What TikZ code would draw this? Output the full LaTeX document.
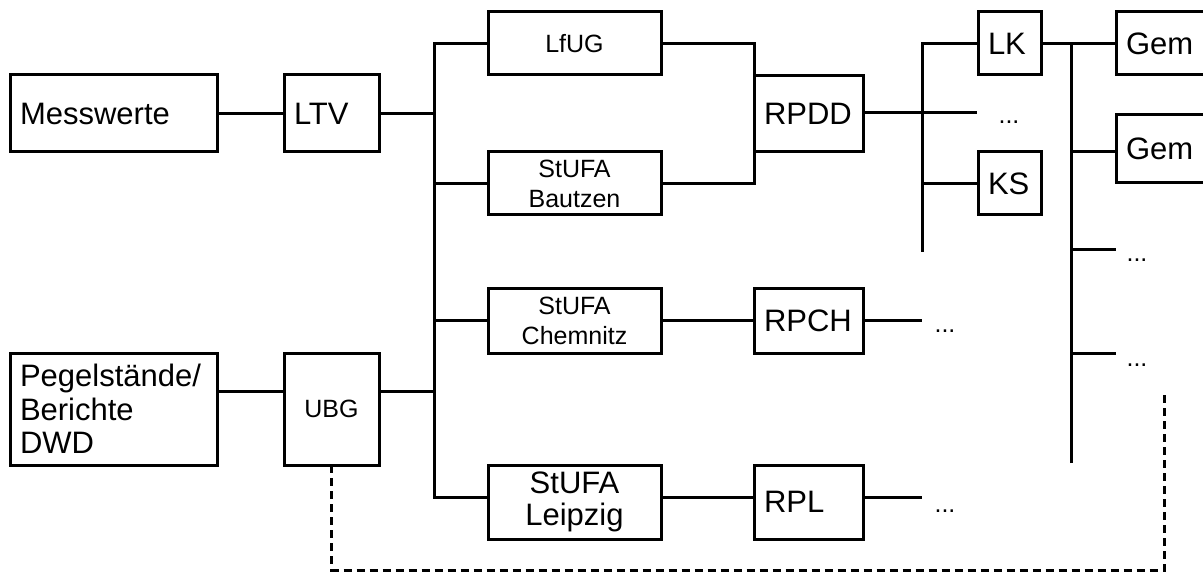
\documentclass[tikz,border=0pt]{standalone}
\usepackage{fontspec}
\setmainfont{Liberation Sans}
\usetikzlibrary{positioning,calc}

\begin{document}
\begin{tikzpicture}[x=1pt,y=-1pt,
  box/.style={draw, line width=3pt, anchor=north west, inner xsep=10pt, inner ysep=0pt, outer sep=0pt},
  gross/.style={box, align=left, font=\fontsize{31}{34}\selectfont},
  klein/.style={box, align=center, font=\fontsize{25}{30}\selectfont},
  leitung/.style={line width=3pt},
  punkte/.style={font=\fontsize{25}{30}\selectfont, anchor=base, inner sep=0pt}]
\useasboundingbox (0,0) rectangle (1203,572);
\clip (0,0) rectangle (1203,572);
% Quellen
\node[gross, text width=187pt, minimum height=77pt] (mess) at (10,75) {Messwerte};
\node[gross, text width=75pt, minimum height=77pt] (ltv) at (284,75) {LTV};
\node[gross, text width=187pt, minimum height=112pt, font=\fontsize{31}{33.5}\selectfont] (pegel) at (10,353) {Pegelstände/\\Berichte\\DWD};
\node[klein, text width=75pt, minimum height=112pt] (ubg) at (284,353) {UBG};
% Aemter
\node[klein, text width=153pt, minimum height=63pt] (lfug) at (488,12) {LfUG};
\node[klein, text width=153pt, minimum height=63pt] (bautzen) at (488,152) {StUFA\\Bautzen};
\node[klein, text width=153pt, minimum height=64pt] (chemnitz) at (488,289) {StUFA\\Chemnitz};
\node[gross, align=center, text width=153pt, minimum height=74pt, font=\fontsize{31}{32}\selectfont] (leipzig) at (488,465) {StUFA\\Leipzig};
% Regierungspraesidien
\node[gross, text width=89pt, minimum height=76pt] (rpdd) at (754,76) {RPDD};
\node[gross, text width=89pt, minimum height=64pt] (rpch) at (754,289) {RPCH};
\node[gross, text width=89pt, minimum height=74pt] (rpl) at (754,465) {RPL};
% Kreise, Gemeinden
\node[gross, text width=43pt, minimum height=63pt] (lk) at (978,12) {LK};
\node[gross, text width=43pt, minimum height=63pt] (ks) at (978,152) {KS};
\node[gross, text width=100pt, minimum height=63pt] (gem1) at (1116,12) {Gem};
\node[gross, text width=100pt, minimum height=68pt] (gem2) at (1116,115) {Gem};
% Verteiler
\coordinate (zl) at (434,497);
\coordinate (zp) at (434,391);
\coordinate (dd) at (977,113);
\coordinate (v2e) at (922,252);
\coordinate (v3e) at (1071,463);
\coordinate (g2) at (1071,152);
\coordinate (g3) at (1071,250);
\coordinate (g3e) at (1116,250);
\coordinate (g4) at (1071,353);
\coordinate (g4e) at (1116,353);
\coordinate (ch) at (922,321);
\coordinate (lp) at (922,497);
\coordinate (ecke) at (1164,570);
\coordinate (rueck) at (1164,390);
% Leitungen
\draw[leitung] (mess) -- (ltv);
\draw[leitung] (ltv) -- (ltv -| zl);
\draw[leitung] (pegel.east |- zp) -- (ubg.west |- zp);
\draw[leitung] (ubg.east |- zp) -- (zp);
\draw[leitung] (lfug.west) -| (zl) -- (leipzig.west |- zl);
\draw[leitung] (bautzen.west) -- (bautzen.west -| zl);
\draw[leitung] (chemnitz.west) -- (chemnitz.west -| zl);
\draw[leitung] (lfug.east) -| (rpdd.west |- bautzen.east) -- (bautzen.east);
\draw[leitung] (chemnitz) -- (rpch);
\draw[leitung] (leipzig.east |- zl) -- (rpl.west |- zl);
\draw[leitung] (rpdd.east |- dd) -- (dd);
\draw[leitung] (lk.west) -| (v2e);
\draw[leitung] (ks.west) -- (ks.west -| v2e);
\draw[leitung] (rpch.east |- ch) -- (ch);
\draw[leitung] (rpl.east |- lp) -- (lp);
\draw[leitung] (lk.east) -- (gem1.west);
\draw[leitung] (v3e) -- (v3e |- lk.east);
\draw[leitung] (g2) -- (g2 -| gem2.west);
\draw[leitung] (g3) -- (g3e);
\draw[leitung] (g4) -- (g4e);
\draw[leitung, dash pattern=on 8pt off 5pt] (ubg.south) |- (ecke) -- (rueck);
% Fortsetzungen
\node[punkte] (p1) at (1009,124) {...};
\node[punkte] (p2) at (945,332) {...};
\node[punkte] (p3) at (945,512) {...};
\node[punkte] (p4) at (1137,262) {...};
\node[punkte] (p5) at (1137,366) {...};
\end{tikzpicture}
\end{document}
